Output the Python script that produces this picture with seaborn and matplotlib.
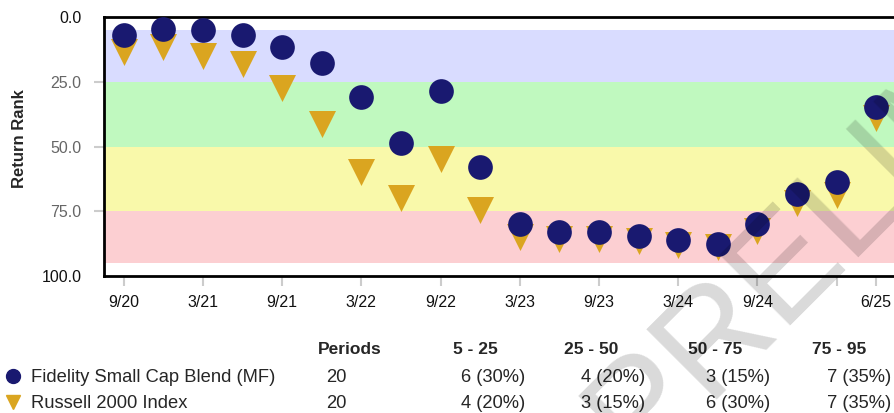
import numpy as np
import pandas as pd
import matplotlib
matplotlib.use('Agg')
import matplotlib.pyplot as plt
from matplotlib.lines import Line2D
import seaborn as sns

# ------------------------------------------------------------
# data
# ------------------------------------------------------------
periods = list(range(20))   # quarterly, 9/20 .. 6/25
fund_rank = [7.0, 4.7, 4.9, 7.0, 11.6, 17.8, 30.9, 48.6, 28.6, 57.9,
             79.9, 82.9, 82.9, 84.5, 86.1, 87.7, 79.9, 68.3, 63.7, 34.6]
index_rank = [13.5, 11.4, 15.2, 18.3, 27.5, 41.2, 59.7, 69.7, 55.0, 74.5,
              85.1, 85.8, 85.8, 86.5, 88.0, 88.9, 82.5, 71.9, 68.9, 38.9]

tick_pos = [0, 2, 4, 6, 8, 10, 12, 14, 16, 18, 19]
tick_labels = ['9/20', '3/21', '9/21', '3/22', '9/22', '3/23', '9/23',
               '3/24', '9/24', '', '6/25']

band_lo = [5, 25, 50, 75]
band_hi = [25, 50, 75, 95]
band_colors = ['#d9dcff', '#c0f9bf', '#f9f9aa', '#fccfd2']
band_names = ['5 - 25', '25 - 50', '50 - 75', '75 - 95']

series_names = ['Fidelity Small Cap Blend (MF)', 'Russell 2000 Index']
series_periods = [20, 20]
band_counts = [[6, 4, 3, 7], [4, 3, 6, 7]]

NAVY = '#191970'
GOLD = '#daa520'

# ------------------------------------------------------------
# figure
# ------------------------------------------------------------
sns.set_style('white')
plt.rcParams['font.family'] = ['Liberation Sans', 'DejaVu Sans']

fig = plt.figure(figsize=(8.94, 4.13), dpi=100)
ax = fig.add_axes([0.1163, 0.3317, 0.8837, 0.627])

for lo, hi, c in zip(band_lo, band_hi, band_colors):
    ax.axhspan(lo, hi, color=c, lw=0, zorder=0)

df = pd.DataFrame({'period': periods, 'fund': fund_rank, 'index': index_rank})

sns.scatterplot(data=df, x='period', y='index', marker='v', s=378,
                color=GOLD, linewidth=0, ax=ax, zorder=3)
sns.scatterplot(data=df, x='period', y='fund', marker='o', s=316,
                color=NAVY, linewidth=0, ax=ax, zorder=4)

ax.set_xlim(-0.5, 19.45)
ax.set_ylim(100, 0)
ax.set_yticks([0, 25, 50, 75, 100])
ax.set_yticklabels(['0.0', '25.0', '50.0', '75.0', '100.0'])
ax.set_xticks(tick_pos)
ax.set_xticklabels(tick_labels)

ax.tick_params(axis='both', labelsize=11.5, length=7, width=1.5,
               color='#cccccc', direction='out')
ax.tick_params(axis='y', left=True, pad=9)
ax.tick_params(axis='x', bottom=True, pad=7)
for t in ax.get_xticklabels():
    t.set_color('#111111')
for i, t in enumerate(ax.get_yticklabels()):
    t.set_color('#111111' if i in (0, 4) else '#666666')
yt = ax.yaxis.get_major_ticks()
yt[0].tick1line.set_visible(False)
yt[4].tick1line.set_visible(False)

ax.set_xlabel('')
ax.set_ylabel('Return Rank', fontsize=12, fontweight='bold')
ax.yaxis.set_label_coords(-0.098, 0.53)

for side in ['top', 'bottom', 'left']:
    ax.spines[side].set_color('black')
    ax.spines[side].set_linewidth(2)
ax.spines['right'].set_visible(False)

# ------------------------------------------------------------
# summary table under the chart
# ------------------------------------------------------------
W, H = 894.0, 413.0
def fx(px):
    return px / W
def fy(py):
    return 1 - py / H

fig.text(fx(318), fy(350), 'Periods', fontsize=12.5, fontweight='bold', va='center')
head_x = [453, 564, 688, 812]
for name, x in zip(band_names, head_x):
    fig.text(fx(x), fy(350), name, fontsize=12.5, fontweight='bold', va='center')

row_y = [377, 403]
markers = ['o', 'v']
colors = [NAVY, GOLD]
val_x = [525, 645, 770, 891]
for r in range(2):
    fig.add_artist(Line2D([fx(13)], [fy(row_y[r] - 1)], transform=fig.transFigure,
                          marker=markers[r], markersize=10, color=colors[r], lw=0))
    fig.text(fx(31), fy(row_y[r]), series_names[r], fontsize=13.2, va='center')
    fig.text(fx(326), fy(row_y[r]), str(series_periods[r]), fontsize=13.2, va='center')
    for c, x in zip(band_counts[r], val_x):
        pct = round(100 * c / series_periods[r])
        fig.text(fx(x), fy(row_y[r]), f'{c} ({pct}%)', fontsize=13.2,
                 va='center', ha='right')

# watermark
fig.text(fx(637), fy(467), 'PRELIMINARY', fontsize=104, rotation=45,
         rotation_mode='anchor', ha='left', va='baseline',
         color='black', alpha=0.15, zorder=10)

plt.savefig('out.png', dpi=100)
